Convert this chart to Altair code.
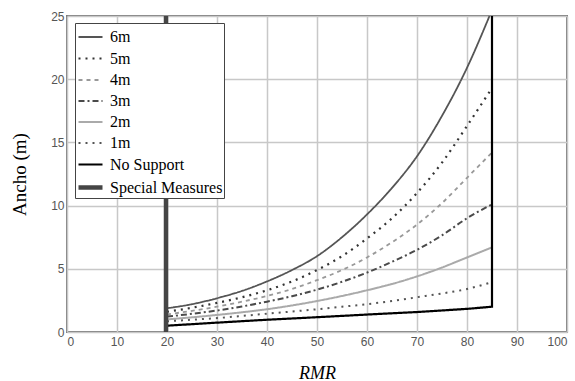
import altair as alt
import pandas as pd

series = ["6m", "5m", "4m", "3m", "2m", "1m", "No Support", "Special Measures"]

rmr = [20, 25, 30, 35, 40, 45, 50, 55, 60, 65, 70, 75, 80, 85]
rmr_6m = [20, 25, 30, 35, 40, 45, 50, 55, 60, 65, 70, 75, 80, 84.5]
w6 = [1.88, 2.2, 2.67, 3.25, 4.0, 4.9, 6.0, 7.5, 9.3, 11.4, 13.9, 17.1, 20.9, 25.0]
w5 = [1.6, 1.92, 2.3, 2.75, 3.3, 4.0, 4.9, 6.0, 7.4, 9.0, 11.0, 13.4, 16.3, 19.3]
w4 = [1.4, 1.67, 2.0, 2.4, 2.85, 3.4, 4.1, 4.9, 5.9, 7.1, 8.5, 10.2, 12.2, 14.2]
w3 = [1.22, 1.44, 1.7, 2.02, 2.4, 2.83, 3.35, 3.97, 4.7, 5.55, 6.5, 7.65, 9.0, 10.1]
w2 = [1.0, 1.16, 1.35, 1.56, 1.8, 2.1, 2.45, 2.85, 3.3, 3.8, 4.4, 5.1, 5.9, 6.7]
w1 = [0.85, 0.97, 1.1, 1.27, 1.45, 1.62, 1.8, 2.0, 2.2, 2.45, 2.75, 3.05, 3.4, 3.95]
ns_x = [20, 30, 40, 50, 60, 70, 80, 85, 85]
ns_y = [0.5, 0.74, 0.97, 1.17, 1.38, 1.58, 1.83, 2.0, 25]
sm_x = [19.8, 19.8]
sm_y = [0, 25]

x_ticks = [0, 10, 20, 30, 40, 50, 60, 70, 80, 90, 100]
y_ticks = [0, 5, 10, 15, 20, 25]

colors = ["#555555", "#333333", "#999999", "#4a4a4a", "#aaaaaa", "#555555", "#000000", "#454545"]
dashes = [[1, 0], [2, 5], [4, 4], [6, 3, 2, 3], [1, 0], [2, 5], [1, 0], [1, 0]]
widths = [1.8, 2.2, 1.8, 2.0, 2.0, 2.0, 2.2, 4.5]

rows = []
for name, xs, ys in [("6m", rmr_6m, w6), ("5m", rmr, w5), ("4m", rmr, w4),
                     ("3m", rmr, w3), ("2m", rmr, w2), ("1m", rmr, w1)]:
    for i, (x, y) in enumerate(zip(xs, ys)):
        rows.append({"RMR": x, "Ancho": y, "Serie": name, "o": i})
curves = pd.DataFrame(rows)

rows2 = []
for name, xs, ys in [("No Support", ns_x, ns_y), ("Special Measures", sm_x, sm_y)]:
    for i, (x, y) in enumerate(zip(xs, ys)):
        rows2.append({"RMR": x, "Ancho": y, "Serie": name, "o": i})
straight = pd.DataFrame(rows2)

xenc = alt.X("RMR:Q", scale=alt.Scale(domain=[0, 100], nice=False),
             axis=alt.Axis(values=x_ticks, title="RMR", titleFont="Liberation Serif",
                           titleFontStyle="italic", titleFontSize=18, titleFontWeight="normal",
                           titleColor="#000000", titleX=250, titleY=46,
                           titleBaseline="alphabetic", labelPadding=4))
yenc = alt.Y("Ancho:Q", scale=alt.Scale(domain=[0, 25], nice=False),
             axis=alt.Axis(values=y_ticks, title="Ancho (m)", titleFont="Liberation Serif",
                           titleFontSize=19, titleFontWeight="normal", titleColor="#000000",
                           titleX=-42, titleY=158, titleAngle=270, titleAlign="center",
                           titleBaseline="alphabetic", labelPadding=3))

cenc = alt.Color("Serie:O", scale=alt.Scale(type="ordinal", domain=series, range=colors),
                 sort=series, title=None)
denc = alt.StrokeDash("Serie:O", scale=alt.Scale(type="ordinal", domain=series, range=dashes),
                      sort=series, title=None)
wenc = alt.StrokeWidth("Serie:O", scale=alt.Scale(type="ordinal", domain=series, range=widths),
                       sort=series, title=None)

l1 = alt.Chart(curves).mark_line(interpolate="monotone").encode(
    x=xenc, y=yenc, color=cenc, strokeDash=denc, strokeWidth=wenc, order="o:Q")
l2 = alt.Chart(straight).mark_line(interpolate="linear").encode(
    x=xenc, y=yenc, color=cenc, strokeDash=denc, strokeWidth=wenc, order="o:Q")

chart = alt.layer(l1, l2).properties(
    width=500, height=316,
    autosize=alt.AutoSizeParams(type="none"),
    padding={"left": 67, "top": 16, "right": 8, "bottom": 49},
).configure_view(stroke="#7a7a7a", strokeWidth=2).configure_axis(
    grid=True, gridColor="#c8c8c8", gridWidth=1.5, ticks=False, domain=False,
    labelFont="Liberation Sans", labelFontSize=12, labelColor="#555555",
).configure_legend(
    orient="none", legendX=8, legendY=7,
    fillColor="#ffffff", strokeColor="#444444", padding=1,
    labelFont="Liberation Serif", labelFontSize=16, labelColor="#000000",
    symbolType="stroke", symbolSize=576, labelOffset=5, rowPadding=-1.5,
)

chart.save("out.html", embed_options={"renderer": "svg", "actions": False})
